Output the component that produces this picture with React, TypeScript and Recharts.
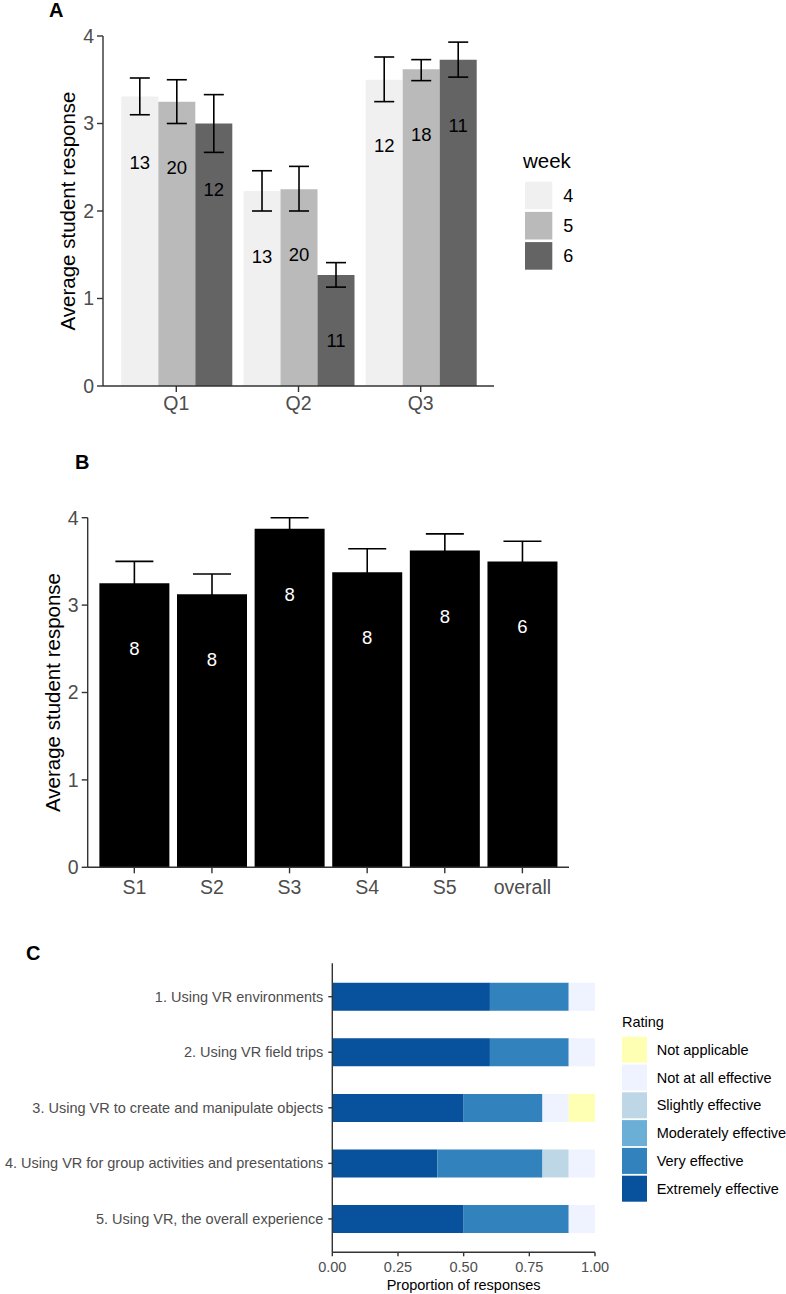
import React from 'react';
import { BarChart, Bar, XAxis, YAxis, ErrorBar, LabelList, Label, Legend } from 'recharts';

const FONT = '"Liberation Sans", Arial, Helvetica, sans-serif';
const AXIS = '#333333';
const TICK_TEXT = '#4d4d4d';

// Panel A: average response per question and week
const questions = ['Q1', 'Q2', 'Q3'];
const weekNames = ['4', '5', '6'];
const weekColors = ['#f0f0f0', '#bababa', '#646464'];
const week4Mean = [3.31, 2.23, 3.5];
const week4Low = [3.1, 2.0, 3.25];
const week4High = [3.52, 2.46, 3.76];
const week4N = [13, 13, 12];
const week5Mean = [3.25, 2.25, 3.62];
const week5Low = [3.0, 2.0, 3.49];
const week5High = [3.5, 2.51, 3.73];
const week5N = [20, 20, 18];
const week6Mean = [3.0, 1.27, 3.73];
const week6Low = [2.67, 1.13, 3.53];
const week6High = [3.33, 1.41, 3.93];
const week6N = [12, 11, 11];
const responseTicks = [0, 1, 2, 3, 4];

// Panel B: average response per session
const sessions = ['S1', 'S2', 'S3', 'S4', 'S5', 'overall'];
const sessionMean = [3.25, 3.125, 3.875, 3.375, 3.625, 3.5];
const sessionSE = [0.25, 0.23, 0.125, 0.27, 0.19, 0.23];
const sessionN = [8, 8, 8, 8, 8, 6];

// Panel C: proportion of ratings per item
const items = [
  '1. Using VR environments',
  '2. Using VR field trips',
  '3. Using VR to create and manipulate objects',
  '4. Using VR for group activities and presentations',
  '5. Using VR, the overall experience',
];
const ratingNames = [
  'Extremely effective',
  'Very effective',
  'Moderately effective',
  'Slightly effective',
  'Not at all effective',
  'Not applicable',
];
const ratingColors = ['#08519c', '#3182bd', '#6baed6', '#bdd7e7', '#eff3ff', '#ffffb3'];
const extremely = [0.6, 0.6, 0.5, 0.4, 0.5];
const very = [0.3, 0.3, 0.3, 0.4, 0.4];
const moderately = [0, 0, 0, 0, 0];
const slightly = [0, 0, 0, 0.1, 0];
const notAtAll = [0.1, 0.1, 0.1, 0.1, 0.1];
const notApplicable = [0, 0, 0.1, 0, 0];
const proportionTicks = [0, 0.25, 0.5, 0.75, 1];

const panelAData = questions.map((q, i) => ({
  question: q,
  m4: week4Mean[i],
  e4: [week4Mean[i] - week4Low[i], week4High[i] - week4Mean[i]],
  n4: week4N[i],
  m5: week5Mean[i],
  e5: [week5Mean[i] - week5Low[i], week5High[i] - week5Mean[i]],
  n5: week5N[i],
  m6: week6Mean[i],
  e6: [week6Mean[i] - week6Low[i], week6High[i] - week6Mean[i]],
  n6: week6N[i],
}));

const panelBData = sessions.map((s, i) => ({
  session: s,
  mean: sessionMean[i],
  se: sessionSE[i],
  n: sessionN[i],
}));

const ratingSeries = [extremely, very, moderately, slightly, notAtAll, notApplicable];
const panelCData = items.map((item, i) => {
  const row: any = { item };
  ratingSeries.forEach((vals, k) => {
    row['r' + k] = vals[i];
  });
  return row;
});

// n label sits 0.75 response units below the bar top
const countLabel = (means: number[], fill: string) => (props: any) => {
  const vb = props.viewBox && props.viewBox.height != null ? props.viewBox : props;
  const { x, y, width, height } = vb;
  const idx = props.index;
  if (height == null || idx == null) return null;
  const perUnit = height / means[idx];
  return (
    <text
      x={x + width / 2}
      y={y + 0.75 * perUnit}
      fill={fill}
      fontSize={18.5}
      textAnchor="middle"
      dominantBaseline="central"
    >
      {props.value}
    </text>
  );
};

const yTitle = (text: string, cx: number) => (props: any) => {
  const vb = props.viewBox;
  const cy = vb.y + vb.height / 2;
  return (
    <text
      x={cx}
      y={cy}
      transform={`rotate(-90, ${cx}, ${cy})`}
      textAnchor="middle"
      dominantBaseline="central"
      fontSize={20.5}
      fill="#000"
    >
      {text}
    </text>
  );
};

const WeekLegend = (props: any) => {
  const payload = [...(props.payload || [])].sort(
    (a: any, b: any) => weekNames.indexOf(a.value) - weekNames.indexOf(b.value)
  );
  return (
    <svg width={110} height={140}>
      <text x={3} y={28.3} fontSize={20.5} fill="#000">week</text>
      {payload.map((p: any, i: number) => (
        <g key={i}>
          <rect x={5} y={41.7 + i * 30.2} width={27.3} height={27.6} fill={p.color} />
          <text x={43.3} y={55.5 + i * 30.2} fontSize={18} fill="#000" dominantBaseline="central">
            {p.value}
          </text>
        </g>
      ))}
    </svg>
  );
};

// ggplot lists the last stack level first
const RatingLegend = (props: any) => {
  const payload = [...(props.payload || [])].sort(
    (a: any, b: any) => ratingNames.indexOf(b.value) - ratingNames.indexOf(a.value)
  );
  return (
    <svg width={170} height={200}>
      <text x={0} y={17} fontSize={14.5} fill="#000">Rating</text>
      {payload.map((p: any, i: number) => (
        <g key={i}>
          <rect x={0} y={26.7 + i * 27.8} width={25} height={26} fill={p.color} />
          <text x={34.7} y={39.7 + i * 27.8} fontSize={14.5} fill="#000" dominantBaseline="central">
            {p.value}
          </text>
        </g>
      ))}
    </svg>
  );
};

const ItemTick = (props: any) => {
  const { x, y, payload } = props;
  return (
    <text x={x} y={y} textAnchor="end" dominantBaseline="central" fontSize={14.5} fill={TICK_TEXT}>
      {payload.value}
    </text>
  );
};

const panelLetter = (letter: string, left: number, top: number) => (
  <div
    style={{
      position: 'absolute',
      left,
      top,
      fontSize: 20,
      fontWeight: 'bold',
      lineHeight: '20px',
      color: '#000',
    }}
  >
    {letter}
  </div>
);

export default function App() {
  const axisLine = { stroke: AXIS, strokeWidth: 1.4 };
  const tickLine = { stroke: AXIS, strokeWidth: 1.4 };
  const bigTick = { fontSize: 19.5, fill: TICK_TEXT };
  const aMeans = [week4Mean, week5Mean, week6Mean];

  return (
    <div
      style={{
        position: 'absolute',
        left: 0,
        top: 0,
        width: 786,
        height: 1294,
        background: '#fff',
        fontFamily: FONT,
        overflow: 'hidden',
      }}
    >
      {panelLetter('A', 49, 0)}
      {panelLetter('B', 75, 452)}
      {panelLetter('C', 26, 943)}

      <div style={{ position: 'absolute', left: 0, top: 0 }}>
        <BarChart
          width={786}
          height={440}
          data={panelAData}
          margin={{ top: 36, right: 292, bottom: 14, left: 0 }}
          barCategoryGap="5%"
          barGap={0}
        >
          <XAxis
            dataKey="question"
            height={40}
            padding={{ left: 12.2, right: 12.2 }}
            axisLine={axisLine}
            tickLine={tickLine}
            tickSize={6}
            tickMargin={4}
            tick={bigTick}
          />
          <YAxis
            width={103}
            domain={[0, 4]}
            ticks={responseTicks}
            axisLine={axisLine}
            tickLine={tickLine}
            tickSize={6}
            tickMargin={3}
            tick={bigTick}
          >
            <Label content={yTitle('Average student response', 67.5)} />
          </YAxis>
          <Legend
            layout="vertical"
            align="center"
            verticalAlign="middle"
            content={WeekLegend}
            wrapperStyle={{ left: 520, top: 140, width: 110, height: 140 }}
          />
          {weekNames.map((w, k) => (
            <Bar
              key={w}
              dataKey={'m' + w}
              name={w}
              fill={weekColors[k]}
              isAnimationActive={false}
            >
              <ErrorBar dataKey={'e' + w} width={10} stroke="#000" strokeWidth={1.6} />
              <LabelList dataKey={'n' + w} content={countLabel(aMeans[k], '#000')} />
            </Bar>
          ))}
        </BarChart>
      </div>

      <div style={{ position: 'absolute', left: 0, top: 480 }}>
        <BarChart
          width={786}
          height={430}
          data={panelBData}
          margin={{ top: 37.7, right: 217, bottom: 2.7, left: 0 }}
          barCategoryGap="5%"
        >
          <XAxis
            dataKey="session"
            height={40}
            padding={{ left: 7.8, right: 7.8 }}
            axisLine={axisLine}
            tickLine={tickLine}
            tickSize={6}
            tickMargin={7}
            tick={bigTick}
          />
          <YAxis
            width={87.7}
            domain={[0, 4]}
            ticks={responseTicks}
            axisLine={axisLine}
            tickLine={tickLine}
            tickSize={6}
            tickMargin={3}
            tick={bigTick}
          >
            <Label content={yTitle('Average student response', 52.5)} />
          </YAxis>
          <Bar dataKey="mean" fill="#000" isAnimationActive={false}>
            <ErrorBar dataKey="se" width={19} stroke="#000" strokeWidth={1.6} />
            <LabelList dataKey="n" content={countLabel(sessionMean, '#fff')} />
          </Bar>
        </BarChart>
      </div>

      <div style={{ position: 'absolute', left: 0, top: 940 }}>
        <BarChart
          width={786}
          height={354}
          data={panelCData}
          layout="vertical"
          margin={{ top: 23.3, right: 191, bottom: 0, left: 0 }}
          barCategoryGap="25%"
        >
          <XAxis
            type="number"
            domain={[0, 1]}
            ticks={proportionTicks}
            tickFormatter={(v: number) => v.toFixed(2)}
            height={41.7}
            axisLine={axisLine}
            tickLine={tickLine}
            tickSize={4}
            tickMargin={5}
            tick={{ fontSize: 14.5, fill: TICK_TEXT }}
          >
            <Label
              content={(p: any) => (
                <text
                  x={p.viewBox.x + p.viewBox.width / 2}
                  y={p.viewBox.y + 37.7}
                  textAnchor="middle"
                  fontSize={14.5}
                  fill="#000"
                >
                  Proportion of responses
                </text>
              )}
            />
          </XAxis>
          <YAxis
            type="category"
            dataKey="item"
            width={332.3}
            padding={{ top: 5.6, bottom: 5.6 }}
            axisLine={axisLine}
            tickLine={tickLine}
            tickSize={4}
            tickMargin={5}
            tick={ItemTick}
            interval={0}
          />
          <Legend
            layout="vertical"
            align="center"
            verticalAlign="middle"
            content={RatingLegend}
            wrapperStyle={{ left: 622, top: 70, width: 170, height: 200 }}
          />
          {ratingNames.map((name, k) => (
            <Bar
              key={name}
              dataKey={'r' + k}
              name={name}
              stackId="rating"
              fill={ratingColors[k]}
              isAnimationActive={false}
            />
          ))}
        </BarChart>
      </div>
    </div>
  );
}
